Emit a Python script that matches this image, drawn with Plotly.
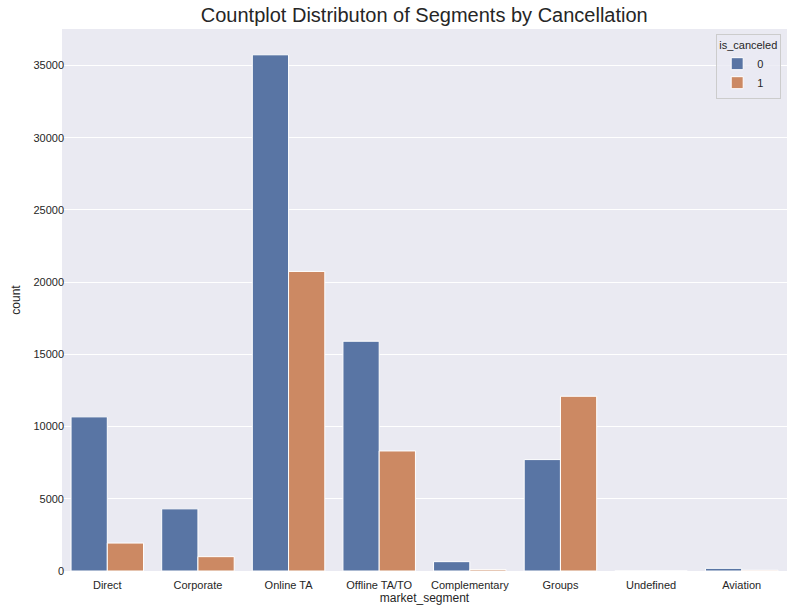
import plotly.graph_objects as go

segments = ["Direct", "Corporate", "Online TA", "Offline TA/TO", "Complementary", "Groups", "Undefined", "Aviation"]
not_canceled = [10672, 4303, 35738, 15908, 646, 7714, 0, 185]
canceled = [1934, 992, 20739, 8311, 97, 12097, 2, 52]
series_names = ["0", "1"]
colors = ["#5975a4", "#cc8963"]
yticks = [0, 5000, 10000, 15000, 20000, 25000, 30000, 35000]

font_family = "Liberation Sans, Arial, sans-serif"
text_color = "#262626"

fig = go.Figure()
for name, vals, col in zip(series_names, [not_canceled, canceled], colors):
    fig.add_trace(go.Bar(
        x=segments, y=vals, name=name,
        marker=dict(color=col, line=dict(color="white", width=1)),
    ))

fig.update_layout(
    width=793, height=612,
    margin=dict(l=62, r=6, t=29, b=41, autoexpand=False),
    paper_bgcolor="white",
    plot_bgcolor="#eaeaf2",
    barmode="group",
    bargap=0.2,
    bargroupgap=0,
    font=dict(family=font_family, color=text_color, size=11),
    title=dict(text="Countplot Distributon of Segments by Cancellation",
               x=0.535, xanchor="center", y=0.976, yanchor="middle",
               font=dict(size=20, color=text_color)),
    legend=dict(
        title=dict(text="is_canceled", side="top", font=dict(size=11)),
        x=0.992, xanchor="right", y=0.991, yanchor="top",
        bgcolor="rgba(234,234,242,0.8)", bordercolor="#cccccc", borderwidth=1,
        font=dict(size=11), itemwidth=30, tracegroupgap=0,
    ),
    showlegend=True,
)
fig.update_xaxes(
    title=dict(text="market_segment", font=dict(size=12), standoff=2),
    showgrid=False, range=[-0.5, 7.5], ticks="", tickfont=dict(size=11),
    ticklabelstandoff=6,
    zeroline=False, showline=False, automargin=False,
)
fig.update_yaxes(
    title=dict(text="count", font=dict(size=12), standoff=10),
    range=[0, 37525], tickvals=yticks, ticktext=[str(v) for v in yticks],
    showgrid=True, gridcolor="white", gridwidth=1, zeroline=False,
    ticks="", tickfont=dict(size=11), ticklabelstandoff=-3,
    showline=False, automargin=False,
)

fig.write_html("out.html", post_script="document.body.style.margin='0';",
               config={"displayModeBar": False})
